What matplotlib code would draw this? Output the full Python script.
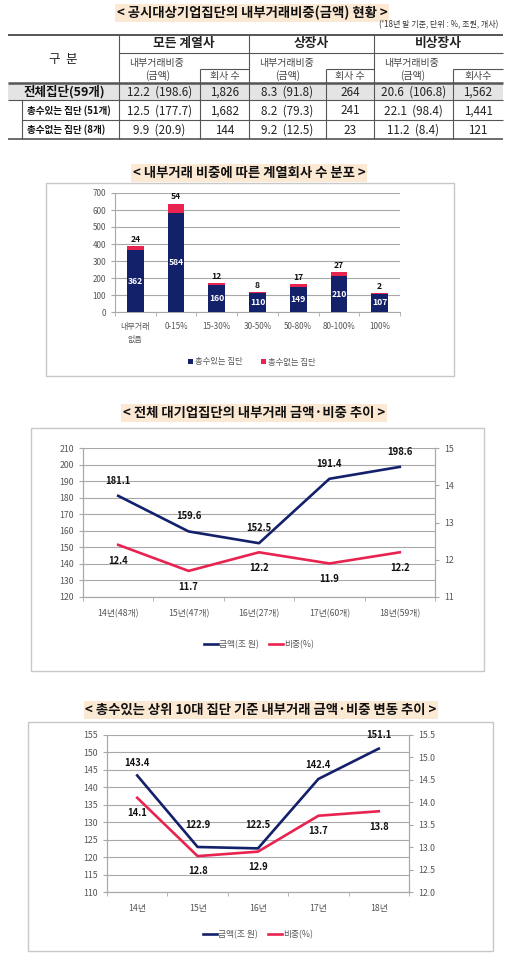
import matplotlib
matplotlib.use("Agg")
import matplotlib.pyplot as plt
import numpy as np
from matplotlib.patches import Rectangle

plt.rcParams['font.family'] = ['Noto Sans CJK KR', 'DejaVu Sans']

W, H = 530, 963
NAVY = "#13206a"
RED = "#e8234f"
GRID = "#a8a8a8"
TICK = "#555555"

# --- table data ---
TABLE_TITLE = "< 공시대상기업집단의 내부거래비중(금액) 현황 >"
TABLE_NOTE = "('18년 말 기준, 단위 : %, 조원, 개사)"
groups = ["모든 계열사", "상장사", "비상장사"]
count_heads = ["회사 수", "회사 수", "회사수"]
row_labels = ["전체집단(59개)", "총수있는 집단 (51개)", "총수없는 집단 (8개)"]
ratio = [[12.2, 8.3, 20.6], [12.5, 8.2, 22.1], [9.9, 9.2, 11.2]]
amount = [[198.6, 91.8, 106.8], [177.7, 79.3, 98.4], [20.9, 12.5, 8.4]]
counts = [[1826, 264, 1562], [1682, 241, 1441], [144, 23, 121]]

# --- bar chart data ---
BAR_TITLE = "< 내부거래 비중에 따른 계열회사 수 분포 >"
bins = ["내부거래\n없음", "0-15%", "15-30%", "30-50%", "50-80%", "80-100%", "100%"]
with_owner = [362, 584, 160, 110, 149, 210, 107]
without_owner = [24, 54, 12, 8, 17, 27, 2]

# --- line chart 1 ---
LINE1_TITLE = "< 전체 대기업집단의 내부거래 금액·비중 추이 >"
years1 = ["14년(48개)", "15년(47개)", "16년(27개)", "17년(60개)", "18년(59개)"]
amount1 = [181.1, 159.6, 152.5, 191.4, 198.6]
ratio1 = [12.4, 11.7, 12.2, 11.9, 12.2]

# --- line chart 2 ---
LINE2_TITLE = "< 총수있는 상위 10대 집단 기준 내부거래 금액·비중 변동 추이 >"
years2 = ["14년", "15년", "16년", "17년", "18년"]
amount2 = [143.4, 122.9, 122.5, 142.4, 151.1]
ratio2 = [14.1, 12.8, 12.9, 13.7, 13.8]

fig = plt.figure(figsize=(W / 100, H / 100), dpi=100)
bg = fig.add_axes([0, 0, 1, 1])
bg.set_xlim(0, W)
bg.set_ylim(H, 0)
bg.axis("off")


def px_axes(x0, y0, x1, y1):
    return fig.add_axes([x0 / W, 1 - y1 / H, (x1 - x0) / W, (y1 - y0) / H])


def title(x, y, s):
    bg.text(x, y, s, ha="center", va="center", fontsize=9.6, fontweight="bold",
            color="#111111",
            bbox=dict(boxstyle="square,pad=0.12", fc="#fce9d4", ec="none"))


def hline(y, x0, x1, lw=0.8, c="#555555"):
    bg.plot([x0, x1], [y, y], color=c, lw=lw, solid_capstyle="butt")


def vline(x, y0, y1, lw=0.8, c="#555555"):
    bg.plot([x, x], [y0, y1], color=c, lw=lw, solid_capstyle="butt")


# ---------------- table ----------------
title(252, 13, TABLE_TITLE)
bg.text(498, 25, TABLE_NOTE, ha="right", va="center", fontsize=5.8, color="#333333")

cols = [8, 119, 200, 249, 326, 374, 453, 503]
bg.add_patch(Rectangle((8, 83), 495, 17, fc="#e4e4e4", ec="none"))
hline(35, 8, 503, lw=1.4)
hline(53, 119, 503)
for k in range(3):
    hline(69, cols[2 * k + 2], cols[2 * k + 3])
hline(83, 8, 503, lw=1.8)
hline(100.5, 8, 503)
hline(120, 22, 503)
hline(139, 8, 503, lw=1.2)
for x in (119, 249, 374):
    vline(x, 35, 139)
for x in (200, 326, 453):
    vline(x, 69, 139)
vline(22, 100.5, 139)

bg.text(63, 60, "구  분", ha="center", va="center", fontsize=9, color="#222222")
for k, g in enumerate(groups):
    xa, xm, xb = cols[2 * k + 1], cols[2 * k + 2], cols[2 * k + 3]
    bg.text((xa + xb) / 2, 43, g, ha="center", va="center", fontsize=9.2,
            fontweight="bold", color="#222222")
    bg.text(xa + 10, 63, "내부거래비중", ha="left", va="center", fontsize=7.2,
            color="#444444")
    bg.text(xa + 39, 76, "(금액)", ha="center", va="center", fontsize=7.2,
            color="#444444")
    bg.text((xm + xb) / 2, 76, count_heads[k], ha="center", va="center",
            fontsize=7.2, color="#444444")

row_y = [92, 111, 130]
for r, lab in enumerate(row_labels):
    if r == 0:
        bg.text(64, row_y[r], lab, ha="center", va="center", fontsize=9,
                fontweight="bold", color="#111111")
    else:
        bg.text(27, row_y[r], lab, ha="left", va="center", fontsize=6.9,
                fontweight="bold", color="#111111")
    for k in range(3):
        xa, xm, xb = cols[2 * k + 1], cols[2 * k + 2], cols[2 * k + 3]
        bg.text((xa + xm) / 2, row_y[r], f"{ratio[r][k]}  ({amount[r][k]})",
                ha="center", va="center", fontsize=8.4, color="#222222")
        bg.text((xm + xb) / 2, row_y[r], f"{counts[r][k]:,}", ha="center",
                va="center", fontsize=8.4, color="#222222")

# ---------------- bar chart ----------------
title(249, 173, BAR_TITLE)
bg.add_patch(Rectangle((46, 183), 408, 193, fc="none", ec="#c8c8c8", lw=1))
ax = px_axes(115, 193, 400, 312)
x = np.arange(len(bins))
ax.bar(x, with_owner, 0.41, color=NAVY, zorder=3, label="총수있는 집단")
ax.bar(x, without_owner, 0.41, bottom=with_owner, color=RED, zorder=3,
       label="총수없는 집단")
for i in range(len(bins)):
    ax.text(i, with_owner[i] / 2, str(with_owner[i]), ha="center", va="center",
            color="white", fontsize=6.2, fontweight="bold", zorder=4)
    ax.annotate(str(without_owner[i]), (i, with_owner[i] + without_owner[i]),
                xytext=(0, 1.5), textcoords="offset points", ha="center",
                va="bottom", fontsize=6.2, fontweight="bold", color="#111111")
ax.set_xlim(-0.5, len(bins) - 0.5)
ax.set_ylim(0, 700)
ax.set_yticks(range(0, 701, 100))
ax.set_xticks(x)
ax.set_xticklabels(bins, linespacing=1.6)
ax.set_xticks(np.arange(len(bins) + 1) - 0.5, minor=True)
ax.tick_params(axis="x", which="major", length=0, pad=7, labelsize=5.8,
               labelcolor=TICK)
ax.tick_params(axis="x", which="minor", length=3, color=GRID)
ax.tick_params(axis="y", length=3, color=GRID, labelsize=5.8, labelcolor=TICK)
ax.grid(axis="y", color=GRID, lw=0.8, zorder=0)
for s in ("top", "right"):
    ax.spines[s].set_visible(False)
for s in ("left", "bottom"):
    ax.spines[s].set_color(GRID)
ax.legend(loc="center", bbox_to_anchor=(0.48, -0.42), ncol=2, frameon=False,
          fontsize=6, handlelength=0.6, handleheight=0.6, handletextpad=0.3,
          columnspacing=2.2, labelcolor=TICK)


# ---------------- line charts ----------------
def line_chart(box, rect, labels, amt, rat, ylim, ystep, rlim, rstep, rfmt,
               amt_dy, rat_dy, leg_y):
    bg.add_patch(Rectangle((box[0], box[1]), box[2] - box[0], box[3] - box[1],
                           fc="none", ec="#c8c8c8", lw=1))
    a = px_axes(*rect)
    r = a.twinx()
    xs = np.arange(len(labels))
    a.plot(xs, amt, color=NAVY, lw=1.9, label="금액(조 원)", zorder=3)
    r.plot(xs, rat, color=RED, lw=1.9, label="비중(%)", zorder=3)
    for i in xs:
        a.annotate(f"{amt[i]}", (i, amt[i]), xytext=(0, amt_dy[i]),
                   textcoords="offset points", ha="center", va="center",
                   fontsize=6.8, fontweight="bold", color="#111111")
        r.annotate(f"{rat[i]}", (i, rat[i]), xytext=(0, rat_dy),
                   textcoords="offset points", ha="center", va="center",
                   fontsize=6.8, fontweight="bold", color="#111111")
    a.set_xlim(-0.5, len(labels) - 0.5)
    a.set_ylim(*ylim)
    a.set_yticks(np.arange(ylim[0], ylim[1] + 0.01, ystep))
    r.set_ylim(*rlim)
    r.set_yticks(np.arange(rlim[0], rlim[1] + 0.01, rstep))
    r.set_yticklabels([rfmt.format(v) for v in
                       np.arange(rlim[0], rlim[1] + 0.01, rstep)])
    a.set_xticks(xs)
    a.set_xticklabels(labels)
    a.set_xticks(np.arange(len(labels) + 1) - 0.5, minor=True)
    a.tick_params(axis="x", which="major", length=0, pad=9, labelsize=6.3,
                  labelcolor=TICK)
    a.tick_params(axis="x", which="minor", length=3, color=GRID)
    a.tick_params(axis="y", length=3, color=GRID, labelsize=6.3, labelcolor=TICK)
    r.tick_params(axis="y", length=3, color=GRID, labelsize=6.3, labelcolor=TICK)
    a.grid(axis="y", color=GRID, lw=0.8, zorder=0)
    for ax_ in (a, r):
        ax_.spines["top"].set_visible(False)
        for s in ("left", "right", "bottom"):
            ax_.spines[s].set_color(GRID)
    h1, l1 = a.get_legend_handles_labels()
    h2, l2 = r.get_legend_handles_labels()
    a.legend(h1 + h2, l1 + l2, loc="center", bbox_to_anchor=(0.5, leg_y),
             ncol=2, frameon=False, fontsize=6.3, handlelength=1.6,
             handletextpad=0.1, columnspacing=1.2, labelcolor=TICK)


title(254, 413, LINE1_TITLE)
line_chart((31, 428, 484, 671), (83, 448, 435, 597), years1, amount1, ratio1,
           (120, 210), 10, (11, 15), 1, "{:.0f}",
           [11, 11, 11, 11, 11], -11.5, -0.32)

title(261, 710, LINE2_TITLE)
line_chart((28, 722, 493, 951), (107, 735, 409, 892), years2, amount2, ratio2,
           (110, 155), 5, (12.0, 15.5), 0.5, "{:.1f}",
           [9, 16, 17, 10, 10], -11, -0.27)

fig.savefig("out.png", dpi=100)
